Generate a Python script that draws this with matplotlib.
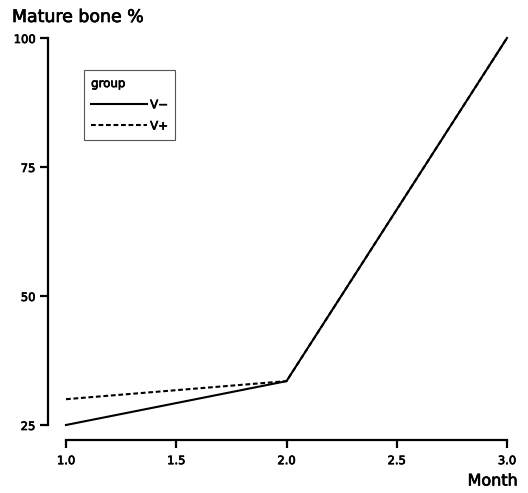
import matplotlib
matplotlib.use("Agg")
from matplotlib import pyplot as plt
import matplotlib.patheffects as pe

plt.rcParams['font.family'] = ['DejaVu Sans']

month = [1.0, 2.0, 3.0]
v_minus = [25.0, 33.5, 100.0]
v_plus = [30.0, 33.5, 100.0]
groups = ["V\u2212", "V+"]
xticks = [1.0, 1.5, 2.0, 2.5, 3.0]
yticks = [25, 50, 75, 100]

# slightly heavier text, like a medium weight
heavy = [pe.withStroke(linewidth=0.5, foreground='black')]

fig = plt.figure(figsize=(5.28, 4.93), dpi=100)
ax = fig.add_axes([66/528, 1-425/493, (507-66)/528, (425-38)/493])

ax.plot(month, v_minus, color='black', lw=1.5, ls='-', label=groups[0], clip_on=False)
ax.plot(month, v_plus, color='black', lw=1.5, ls=(0, (2.3, 1.3)), label=groups[1], clip_on=False)

ax.set_xlim(1, 3)
ax.set_ylim(25, 100)
ax.set_xticks(xticks)
ax.set_xticklabels(["%.1f" % t for t in xticks])
ax.set_yticks(yticks)

for s in ['top', 'right']:
    ax.spines[s].set_visible(False)
ax.spines['left'].set_position(('outward', 13))
ax.spines['bottom'].set_position(('outward', 11))
ax.spines['left'].set_linewidth(1.6)
ax.spines['bottom'].set_linewidth(1.6)
ax.tick_params(axis='both', length=6, width=1.6, labelsize=8.3, pad=3)
ax.tick_params(axis='x', pad=4)
for t in ax.get_xticklabels() + ax.get_yticklabels():
    t.set_path_effects(heavy)

fig.text(12/528, 1-17/493, "Mature bone %", fontsize=12.5, va='center', ha='left', path_effects=heavy)
fig.text(518/528, 1-481/493, "Month", fontsize=11.5, va='center', ha='right', path_effects=heavy)

leg = ax.legend(title="group", loc='upper left', bbox_to_anchor=(84/528, 1-70/493),
                bbox_transform=fig.transFigure, fontsize=8.5, title_fontsize=8.5,
                handlelength=4.7, fancybox=False, framealpha=1, edgecolor='#555555',
                borderpad=0.6, labelspacing=0.7, handletextpad=0.3, borderaxespad=0)
leg._legend_box.align = "left"
leg.get_frame().set_linewidth(0.8)
for t in leg.get_texts() + [leg.get_title()]:
    t.set_path_effects(heavy)

fig.savefig("out.png", dpi=100)
plt.close()
